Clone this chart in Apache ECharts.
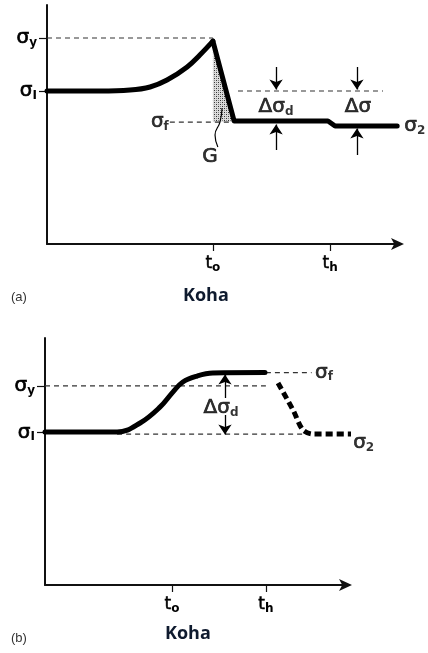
<!DOCTYPE html>
<html>
<head>
<meta charset="utf-8">
<script src="https://cdn.jsdelivr.net/npm/echarts@6/dist/echarts.min.js"></script>
<style>
html,body{margin:0;padding:0;background:#fff;}
#c{width:428px;height:653px;}
</style>
</head>
<body>
<div id="c"></div>
<script>
// ---------- Panel (a) data ----------
const aTickX = [4.70, 8.02];
const aTickXLabels = ['t{sub|o}', 't{sub|h}'];
const aTickY = [8.62, 6.40];
const aTickYLabels = ['σ{sub|y}', 'σ{sub|I}'];
const aRiseX = [0, 1.50, 2.35, 2.92, 3.40, 3.97, 4.33, 4.70];
const aRiseY = [6.40, 6.40, 6.44, 6.57, 6.86, 7.41, 7.91, 8.49];
const aDropX = [4.70, 5.30, 7.96, 8.16, 9.92];
const aDropY = [8.49, 5.15, 5.15, 4.94, 4.94];
const aDashSy = [[0, 8.62], [4.70, 8.62]];
const aDashSi = [[5.41, 6.40], [9.52, 6.40]];
const aDashSf = [[3.48, 5.10], [5.24, 5.10]];
const aShade = [[4.70, 8.49], [5.30, 5.12], [4.70, 5.10]];
const aSquiggle = [[4.84, 4.06], [4.76, 4.56], [4.90, 5.10], [4.96, 5.69]];
const aArrows = [
  [[6.49, 7.41], [6.49, 6.46]],
  [[6.49, 3.93], [6.49, 5.00]],
  [[8.78, 7.41], [8.78, 6.46]],
  [[8.78, 3.72], [8.78, 4.83]]
];
const aLabels = [
  {name: 'σ{sub|f}', pos: [3.45, 5.10], align: 'right'},
  {name: 'G', pos: [4.62, 3.64], align: 'center'},
  {name: 'Δσ{sub|d}', pos: [6.49, 5.73], align: 'center'},
  {name: 'Δσ', pos: [8.81, 5.73], align: 'center'},
  {name: 'σ{sub|2}', pos: [10.12, 4.94], align: 'left'}
];

// ---------- Panel (b) data ----------
const bTickX = [4.19, 7.29];
const bTickXLabels = ['t{sub|o}', 't{sub|h}'];
const bTickY = [8.06, 6.17];
const bTickYLabels = ['σ{sub|y}', 'σ{sub|I}'];
const bRiseX = [0, 2.38, 3.14, 3.80, 4.22, 4.55, 5.02, 5.54, 7.26];
const bRiseY = [6.19, 6.19, 6.56, 7.21, 7.81, 8.22, 8.46, 8.58, 8.60];
const bFallX = [7.69, 8.20, 8.51, 8.85, 10.1];
const bFallY = [8.18, 7.05, 6.28, 6.11, 6.11];
const bDashSy = [[0, 8.06], [7.29, 8.06]];
const bDashSf = [[7.29, 8.60], [8.80, 8.60]];
const bDashSi = [[2.38, 6.11], [8.50, 6.11]];
const bArrows = [
  [[5.94, 7.57], [5.94, 8.52]],
  [[5.94, 6.88], [5.94, 6.09]]
];
const bLabels = [
  {name: 'σ{sub|f}', pos: [8.91, 8.60], align: 'left'},
  {name: 'Δσ{sub|d}', pos: [5.81, 7.17], align: 'center'},
  {name: 'σ{sub|2}', pos: [10.17, 5.75], align: 'left'}
];

// ---------- styling helpers ----------
const FONT = '"DejaVu Sans", "Liberation Sans", Arial, sans-serif';
const INK = '#000';
const rich = {
  s: {fontSize: 20, fontFamily: FONT, color: INK, textBorderColor: '#000', textBorderWidth: 0.7},
  sub: {fontSize: 12, fontFamily: FONT, color: INK, fontWeight: 'bold', padding: [9, 0, 0, 0]}
};
function richLabel(str) {
  return str.replace(/^([^{]+)/, '{s|$1}');
}

const pat = document.createElement('canvas');
pat.width = 4; pat.height = 4;
(function () {
  const g = pat.getContext('2d');
  g.fillStyle = '#dcdcdc'; g.fillRect(0, 0, 4, 4);
  g.fillStyle = '#333';
  g.fillRect(0, 0, 1, 1); g.fillRect(2, 2, 1, 1);
  g.fillStyle = '#888';
  g.fillRect(2, 0, 1, 1); g.fillRect(0, 2, 1, 1);
})();

function xAxisCfg(gi, ticks, labels) {
  return {
    type: 'value', gridIndex: gi, min: 0, max: 10,
    splitLine: {show: false},
    axisLine: {show: true, lineStyle: {color: '#111', width: 2}, symbol: ['none', 'arrow'], symbolSize: [9, 13], symbolOffset: [0, 4]},
    axisTick: {show: true, customValues: ticks, length: 7, lineStyle: {color: '#111', width: 1.2}},
    axisLabel: {
      show: true, customValues: ticks, margin: 10,
      formatter: v => richLabel(labels[ticks.indexOf(v)] || ''),
      rich: {
        s: {fontSize: 17, fontFamily: FONT, color: INK, textBorderColor: '#000', textBorderWidth: 0.5},
        sub: {fontSize: 12, fontFamily: FONT, color: INK, fontWeight: 'bold', padding: [8, 0, 0, 0]}
      }
    }
  };
}
function yAxisCfg(gi, ticks, labels) {
  return {
    type: 'value', gridIndex: gi, min: 0, max: 10,
    splitLine: {show: false},
    axisLine: {show: true, lineStyle: {color: '#111', width: 2}},
    axisTick: {show: true, customValues: ticks, length: 8, lineStyle: {color: '#111', width: 1.2}},
    axisLabel: {
      show: true, customValues: ticks, margin: 10,
      formatter: v => richLabel(labels[ticks.indexOf(v)] || ''),
      rich: rich
    }
  };
}
function lineSeries(gi, xs, ys, opts) {
  return Object.assign({
    type: 'line', xAxisIndex: gi, yAxisIndex: gi,
    data: xs.map((x, i) => [x, ys[i]]),
    showSymbol: false, symbol: 'none', silent: true, clip: false,
    lineStyle: {color: INK, width: 5, cap: 'round', join: 'round'}
  }, opts || {});
}
function dashSeries(gi, pts) {
  return {
    type: 'line', xAxisIndex: gi, yAxisIndex: gi, data: pts,
    symbol: 'none', silent: true, clip: false, z: 1,
    lineStyle: {color: '#333', width: 1.1, type: [5, 4]}
  };
}
function arrowSeries(gi, arr) {
  return {
    type: 'lines', coordinateSystem: 'cartesian2d', xAxisIndex: gi, yAxisIndex: gi,
    symbol: ['none', 'arrow'], symbolSize: [7, 10], silent: true,
    lineStyle: {color: INK, width: 1.3, opacity: 1},
    data: arr.map(c => ({coords: c}))
  };
}
function labelSeries(gi, labs) {
  return {
    type: 'scatter', xAxisIndex: gi, yAxisIndex: gi, symbolSize: 0, silent: true, clip: false,
    data: labs.map(l => ({
      value: l.pos, name: l.name,
      label: {show: true, position: 'inside', align: l.align, verticalAlign: 'middle',
        formatter: p => richLabel(p.name), rich: rich}
    }))
  };
}

const chart = echarts.init(document.getElementById('c'), null, {renderer: 'canvas'});
chart.setOption({
  animation: false,
  backgroundColor: '#fff',
  grid: [
    {left: 47, top: 5, width: 353, height: 239},
    {left: 45, top: 338, width: 303, height: 247}
  ],
  xAxis: [xAxisCfg(0, aTickX, aTickXLabels), xAxisCfg(1, bTickX, bTickXLabels)],
  yAxis: [yAxisCfg(0, aTickY, aTickYLabels), yAxisCfg(1, bTickY, bTickYLabels)],
  graphic: [
    {type: 'text', left: 11, top: 291, style: {text: '(a)', font: '13px "Liberation Sans", Arial, sans-serif', fill: '#333'}},
    {type: 'text', left: 183, top: 287, style: {text: 'Koha', font: 'bold 18px "Open Sans", "Noto Sans", sans-serif', fill: '#0e1a2e'}},
    {type: 'text', left: 11, top: 632, style: {text: '(b)', font: '13px "Liberation Sans", Arial, sans-serif', fill: '#333'}},
    {type: 'text', left: 165, top: 625, style: {text: 'Koha', font: 'bold 18px "Open Sans", "Noto Sans", sans-serif', fill: '#0e1a2e'}}
  ],
  series: [
    // panel a
    dashSeries(0, aDashSy), dashSeries(0, aDashSi), dashSeries(0, aDashSf),
    {
      type: 'custom', xAxisIndex: 0, yAxisIndex: 0, silent: true, z: 1,
      data: [0],
      renderItem: (params, api) => ({
        type: 'polygon',
        shape: {points: aShade.map(p => api.coord(p))},
        style: {fill: {image: pat, repeat: 'repeat'}, stroke: null}
      })
    },
    lineSeries(0, aRiseX, aRiseY, {smooth: 0.4}),
    lineSeries(0, aDropX, aDropY),
    lineSeries(0, aSquiggle.map(p => p[0]), aSquiggle.map(p => p[1]), {smooth: 0.5, lineStyle: {color: INK, width: 1.2}}),
    arrowSeries(0, aArrows),
    labelSeries(0, aLabels),
    // panel b
    dashSeries(1, bDashSy), dashSeries(1, bDashSf), dashSeries(1, bDashSi),
    lineSeries(1, bRiseX, bRiseY, {smooth: 0.4}),
    lineSeries(1, bFallX, bFallY, {smooth: 0.3, lineStyle: {color: INK, width: 5, type: [7, 4], cap: 'butt'}}),
    arrowSeries(1, bArrows),
    labelSeries(1, bLabels)
  ]
});
</script>
</body>
</html>
